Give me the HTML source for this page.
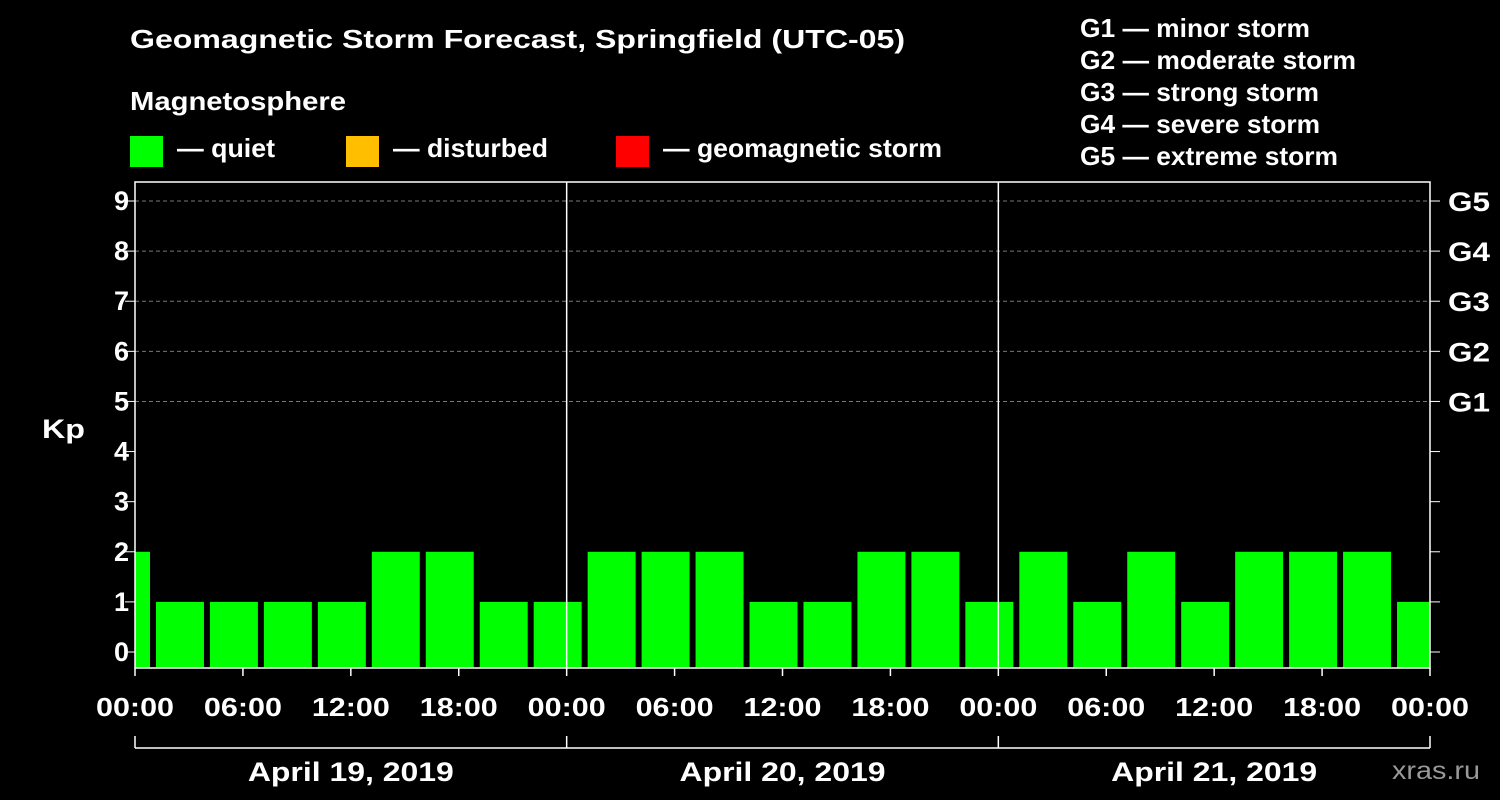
<!DOCTYPE html>
<html><head><meta charset="utf-8"><style>
html,body{margin:0;padding:0;background:#000;}
svg{display:block;font-family:"Liberation Sans",Arial,sans-serif;font-weight:bold;}
</style></head><body>
<svg id="c" width="1500" height="800" viewBox="0 0 1500 800">
<rect width="1500" height="800" fill="#000"/>
<text x="130" y="48" fill="#fff" font-size="26" textLength="775" lengthAdjust="spacingAndGlyphs">Geomagnetic Storm Forecast, Springfield (UTC-05)</text>
<text x="130" y="110" fill="#fff" font-size="26" textLength="216" lengthAdjust="spacingAndGlyphs">Magnetosphere</text>
<g><rect x="130" y="136" width="33" height="31" fill="#00ff00"/><text x="177" y="157" fill="#fff" font-size="26" textLength="98" lengthAdjust="spacingAndGlyphs">— quiet</text></g>
<g><rect x="346" y="136" width="33" height="31" fill="#ffbf00"/><text x="393" y="157" fill="#fff" font-size="26" textLength="155" lengthAdjust="spacingAndGlyphs">— disturbed</text></g>
<g><rect x="616" y="136" width="33" height="31" fill="#ff0000"/><text x="663" y="157" fill="#fff" font-size="26" textLength="279" lengthAdjust="spacingAndGlyphs">— geomagnetic storm</text></g>
<g fill="#fff" font-size="26">
<text x="1080" y="37" textLength="230" lengthAdjust="spacingAndGlyphs">G1 — minor storm</text>
<text x="1080" y="69" textLength="276" lengthAdjust="spacingAndGlyphs">G2 — moderate storm</text>
<text x="1080" y="101" textLength="239" lengthAdjust="spacingAndGlyphs">G3 — strong storm</text>
<text x="1080" y="133" textLength="240" lengthAdjust="spacingAndGlyphs">G4 — severe storm</text>
<text x="1080" y="165" textLength="258" lengthAdjust="spacingAndGlyphs">G5 — extreme storm</text>
</g>
<text x="42" y="438" fill="#fff" font-size="27" textLength="43" lengthAdjust="spacingAndGlyphs">Kp</text>
<text x="1392" y="779" fill="#999" font-size="25" font-weight="normal" textLength="88" lengthAdjust="spacingAndGlyphs">xras.ru</text>
<g id="plot"></g>
</svg>
<script>
const days = ["April 19, 2019","April 20, 2019","April 21, 2019"];
const xTickLabels = ["00:00","06:00","12:00","18:00","00:00","06:00","12:00","18:00","00:00","06:00","12:00","18:00","00:00"];
const yTicks = [0,1,2,3,4,5,6,7,8,9];
const gLabels = ["G1","G2","G3","G4","G5"];
const barStartHours = [-2,1,4,7,10,13,16,19,22,25,28,31,34,37,40,43,46,49,52,55,58,61,64,67,70];
const kpValues = [2,1,1,1,1,2,2,1,1,2,2,2,1,1,2,2,1,2,1,2,1,2,2,2,1];

const L=135,R=1430,T=182,B=668;
const x=h=>L+h*(R-L)/72;
const y=v=>652-v*(652-201)/9;
const NS="http://www.w3.org/2000/svg";
const g=document.getElementById('plot');
function mk(t,a,p){const e=document.createElementNS(NS,t);for(const k in a)e.setAttribute(k,a[k]);(p||g).appendChild(e);return e;}

yTicks.forEach(v=>{
  if(v>=5){const ln=mk('line',{x1:L,x2:R,y1:y(v),y2:y(v),stroke:'#777','stroke-dasharray':'4,3','stroke-width':1});
  
  }
  mk('line',{x1:L-10,x2:L,y1:y(v),y2:y(v),stroke:'#fff','stroke-width':1});
  mk('line',{x1:R,x2:R+10,y1:y(v),y2:y(v),stroke:'#fff','stroke-width':1});
  const t=mk('text',{x:L-6,y:y(v)+9,fill:'#fff','font-size':27,'text-anchor':'end'});t.textContent=v;
  
  
});
gLabels.forEach((s,i)=>{const t=mk('text',{x:R+18,y:y(5+i)+10,fill:'#fff','font-size':27,textLength:42,lengthAdjust:'spacingAndGlyphs'});t.textContent=s;
  
  });

const clip=mk('clipPath',{id:'pc'});mk('rect',{x:L,y:T,width:R-L,height:B-T},clip);
const bg=mk('g',{'clip-path':'url(#pc)'});
barStartHours.forEach((h,i)=>{
  const v=kpValues[i];
  const col=v>=5?'#ff0000':(v>=4?'#ffbf00':'#00ff00');
  const b=mk('rect',{x:x(h)+3,width:x(h+3)-x(h)-6,y:y(v),height:B-y(v),fill:col},bg);
  
  
});
mk('rect',{x:L,y:T,width:R-L,height:B-T,fill:'none',stroke:'#fff','stroke-width':1.5});
[24,48].forEach(h=>mk('line',{x1:x(h),x2:x(h),y1:T,y2:B,stroke:'#fff','stroke-width':1.5}));
xTickLabels.forEach((s,i)=>{
  const xx=x(i*6);
  mk('line',{x1:xx,x2:xx,y1:B,y2:B+8,stroke:'#fff','stroke-width':1.5});
  const t=mk('text',{x:xx,y:716,fill:'#fff','font-size':26,'text-anchor':'middle',textLength:78,lengthAdjust:'spacingAndGlyphs'});t.textContent=s;
  
  
});
mk('line',{x1:L,x2:R,y1:748,y2:748,stroke:'#fff','stroke-width':1.5});
[0,24,48,72].forEach(h=>mk('line',{x1:x(h),x2:x(h),y1:736,y2:748,stroke:'#fff','stroke-width':1.5}));
days.forEach((d,i)=>{const t=mk('text',{x:x(i*24+12),y:781,fill:'#fff','font-size':27,'text-anchor':'middle',textLength:206,lengthAdjust:'spacingAndGlyphs'});t.textContent=d;
  
  });
</script>
</body></html>
